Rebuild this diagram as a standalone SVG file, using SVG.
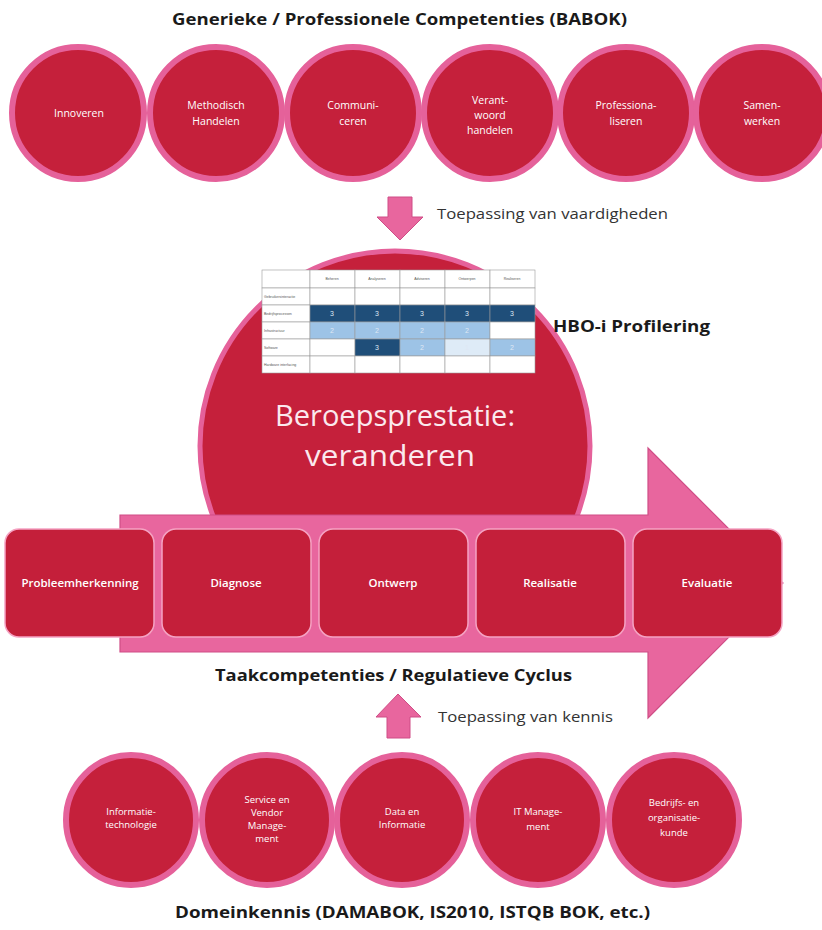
<svg xmlns="http://www.w3.org/2000/svg" width="822" height="930" viewBox="0 0 822 930">
<style>
  .ring { fill: #c5203b; stroke: #e5619a; stroke-width: 6; }
  .lbl { font-family: "Open Sans", "Liberation Sans", sans-serif; font-size: 10.5px; fill: #ffffff; text-anchor: middle; }
  .lbl2 { font-family: "Open Sans", "Liberation Sans", sans-serif; font-size: 9.5px; fill: #ffffff; text-anchor: middle; }
  .box { fill: #c41f3a; stroke: #f5a3c3; stroke-width: 1.5; }
  .blbl { font-family: "Open Sans", "Liberation Sans", sans-serif; font-size: 11.5px; font-weight: 600; fill: #ffffff; text-anchor: middle; }
  .head { font-family: "Open Sans", "Liberation Sans", sans-serif; font-size: 16px; font-weight: 700; fill: #1a1a1a; }
  .note { font-family: "Open Sans", "Liberation Sans", sans-serif; font-size: 14.5px; fill: #333333; }
  .arrow { fill: #e8669e; stroke: #cf4d86; stroke-width: 1; }
  .tcell { fill: #ffffff; stroke: #9a9a9a; stroke-width: 0.6; }
  .ttxt { font-family: "Liberation Sans", sans-serif; font-size: 3.5px; fill: #555555; }
  .tnum { font-family: "Liberation Sans", sans-serif; font-size: 7px; fill: #dfe8f4; text-anchor: middle; }
</style>

<rect x="0" y="0" width="822" height="930" fill="#ffffff"/>

<text class="head" x="172" y="25" textLength="455" lengthAdjust="spacingAndGlyphs">Generieke / Professionele Competenties (BABOK)</text>

<g id="top-competenties">
  <g id="c-innoveren"><circle class="ring" cx="78" cy="113" r="66"/><text class="lbl" x="79" y="117">Innoveren</text></g>
  <g id="c-methodisch"><circle class="ring" cx="216" cy="113" r="66"/><text class="lbl" x="216" y="109">Methodisch</text><text class="lbl" x="216" y="125">Handelen</text></g>
  <g id="c-communiceren"><circle class="ring" cx="353" cy="113" r="66"/><text class="lbl" x="353" y="109">Communi-</text><text class="lbl" x="353" y="125">ceren</text></g>
  <g id="c-verantwoord"><circle class="ring" cx="490" cy="113" r="66"/><text class="lbl" x="490" y="104">Verant-</text><text class="lbl" x="490" y="119">woord</text><text class="lbl" x="490" y="134">handelen</text></g>
  <g id="c-professionaliseren"><circle class="ring" cx="626" cy="113" r="66"/><text class="lbl" x="626" y="109">Professiona-</text><text class="lbl" x="626" y="125">liseren</text></g>
  <g id="c-samenwerken"><circle class="ring" cx="762" cy="113" r="66"/><text class="lbl" x="762" y="109">Samen-</text><text class="lbl" x="762" y="125">werken</text></g>
</g>

<g id="connectors">
  <polygon id="arrow-down" class="arrow" points="388,197 412,197 412,217 423,217 400,240 377,217 388,217"/>
  <polygon id="arrow-up" class="arrow" points="398,694 421,717 410,717 410,738 387,738 387,717 376,717"/>
</g>
<text class="note" x="437" y="219" textLength="231" lengthAdjust="spacingAndGlyphs">Toepassing van vaardigheden</text>

<g id="beroepsprestatie">
  <circle cx="395" cy="446" r="195" fill="#c5203b" stroke="#e5619a" stroke-width="5"/>
  <text x="395" y="426" font-family="Open Sans, Liberation Sans, sans-serif" font-size="29" fill="#fbe9ee" text-anchor="middle" textLength="240" lengthAdjust="spacingAndGlyphs">Beroepsprestatie:</text>
  <text x="390" y="466" font-family="Open Sans, Liberation Sans, sans-serif" font-size="29" fill="#fbe9ee" text-anchor="middle" textLength="170" lengthAdjust="spacingAndGlyphs">veranderen</text>
</g>

<g id="hbo-i-tabel">
  <rect x="262" y="270" width="273" height="103" fill="#ffffff"/>
  <rect class="tcell" x="262" y="270" width="48" height="18"/>
  <rect class="tcell" x="310" y="270" width="45" height="18"/>
  <rect class="tcell" x="355" y="270" width="45" height="18"/>
  <rect class="tcell" x="400" y="270" width="45" height="18"/>
  <rect class="tcell" x="445" y="270" width="45" height="18"/>
  <rect class="tcell" x="490" y="270" width="45" height="18"/>
  <text class="ttxt" x="332" y="280" text-anchor="middle">Beheren</text>
  <text class="ttxt" x="377" y="280" text-anchor="middle">Analyseren</text>
  <text class="ttxt" x="422" y="280" text-anchor="middle">Adviseren</text>
  <text class="ttxt" x="467" y="280" text-anchor="middle">Ontwerpen</text>
  <text class="ttxt" x="512" y="280" text-anchor="middle">Realiseren</text>
  <rect class="tcell" x="262" y="288" width="48" height="17"/>
  <rect class="tcell" x="262" y="305" width="48" height="17"/>
  <rect class="tcell" x="262" y="322" width="48" height="17"/>
  <rect class="tcell" x="262" y="339" width="48" height="17"/>
  <rect class="tcell" x="262" y="356" width="48" height="17"/>
  <text class="ttxt" x="264" y="298">Gebruikersinteractie</text>
  <text class="ttxt" x="264" y="315">Bedrijfsprocessen</text>
  <text class="ttxt" x="264" y="332">Infrastructuur</text>
  <text class="ttxt" x="264" y="349">Software</text>
  <text class="ttxt" x="264" y="366">Hardware interfacing</text>
  <rect class="tcell" x="310" y="288" width="45" height="17"/>
  <rect class="tcell" x="355" y="288" width="45" height="17"/>
  <rect class="tcell" x="400" y="288" width="45" height="17"/>
  <rect class="tcell" x="445" y="288" width="45" height="17"/>
  <rect class="tcell" x="490" y="288" width="45" height="17"/>
  <rect class="tcell" x="310" y="305" width="45" height="17" style="fill:#1f4e79"/>
  <rect class="tcell" x="355" y="305" width="45" height="17" style="fill:#1f4e79"/>
  <rect class="tcell" x="400" y="305" width="45" height="17" style="fill:#1f4e79"/>
  <rect class="tcell" x="445" y="305" width="45" height="17" style="fill:#1f4e79"/>
  <rect class="tcell" x="490" y="305" width="45" height="17" style="fill:#1f4e79"/>
  <text class="tnum" x="332" y="316">3</text><text class="tnum" x="377" y="316">3</text><text class="tnum" x="422" y="316">3</text><text class="tnum" x="467" y="316">3</text><text class="tnum" x="512" y="316">3</text>
  <rect class="tcell" x="310" y="322" width="45" height="17" style="fill:#9dc3e6"/>
  <rect class="tcell" x="355" y="322" width="45" height="17" style="fill:#9dc3e6"/>
  <rect class="tcell" x="400" y="322" width="45" height="17" style="fill:#9dc3e6"/>
  <rect class="tcell" x="445" y="322" width="45" height="17" style="fill:#9dc3e6"/>
  <rect class="tcell" x="490" y="322" width="45" height="17"/>
  <text class="tnum" x="332" y="333">2</text><text class="tnum" x="377" y="333">2</text><text class="tnum" x="422" y="333">2</text><text class="tnum" x="467" y="333">2</text>
  <rect class="tcell" x="310" y="339" width="45" height="17"/>
  <rect class="tcell" x="355" y="339" width="45" height="17" style="fill:#1f4e79"/>
  <rect class="tcell" x="400" y="339" width="45" height="17" style="fill:#9dc3e6"/>
  <rect class="tcell" x="445" y="339" width="45" height="17" style="fill:#deebf7"/>
  <rect class="tcell" x="490" y="339" width="45" height="17" style="fill:#9dc3e6"/>
  <text class="tnum" x="377" y="350">3</text><text class="tnum" x="422" y="350">2</text><text class="tnum" x="467" y="350">1</text><text class="tnum" x="512" y="350">2</text>
  <rect class="tcell" x="310" y="356" width="45" height="17"/>
  <rect class="tcell" x="355" y="356" width="45" height="17"/>
  <rect class="tcell" x="400" y="356" width="45" height="17"/>
  <rect class="tcell" x="445" y="356" width="45" height="17"/>
  <rect class="tcell" x="490" y="356" width="45" height="17"/>
</g>
<text class="head" x="553" y="332" font-size="15" textLength="157" lengthAdjust="spacingAndGlyphs">HBO-i Profilering</text>

<g id="regulatieve-cyclus-pijl">
  <polygon points="120,515 648,515 648,448 783,583 648,718 648,652 120,652" fill="#e8669e" stroke="#cf4d86" stroke-width="1.2"/>
</g>

<g id="b-probleemherkenning"><rect class="box" x="5" y="529" width="149" height="108" rx="14"/><text class="blbl" x="80" y="587">Probleemherkenning</text></g>
<g id="b-diagnose"><rect class="box" x="162" y="529" width="149" height="108" rx="14"/><text class="blbl" x="236" y="587">Diagnose</text></g>
<g id="b-ontwerp"><rect class="box" x="319" y="529" width="149" height="108" rx="14"/><text class="blbl" x="393" y="587">Ontwerp</text></g>
<g id="b-realisatie"><rect class="box" x="476" y="529" width="149" height="108" rx="14"/><text class="blbl" x="550" y="587">Realisatie</text></g>
<g id="b-evaluatie"><rect class="box" x="633" y="529" width="149" height="108" rx="14"/><text class="blbl" x="707" y="587">Evaluatie</text></g>

<text class="head" x="215" y="681" textLength="357" lengthAdjust="spacingAndGlyphs">Taakcompetenties / Regulatieve Cyclus</text>
<text class="note" x="438" y="722" textLength="175" lengthAdjust="spacingAndGlyphs">Toepassing van kennis</text>

<g id="domeinkennis">
  <g id="d-informatietechnologie"><circle class="ring" cx="131" cy="820" r="65"/><text class="lbl2" x="131" y="815">Informatie-</text><text class="lbl2" x="131" y="828">technologie</text></g>
  <g id="d-service"><circle class="ring" cx="267" cy="820" r="65"/><text class="lbl2" x="267" y="803">Service en</text><text class="lbl2" x="267" y="816">Vendor</text><text class="lbl2" x="267" y="829">Manage-</text><text class="lbl2" x="267" y="842">ment</text></g>
  <g id="d-data"><circle class="ring" cx="402" cy="820" r="65"/><text class="lbl2" x="402" y="815">Data en</text><text class="lbl2" x="402" y="828">Informatie</text></g>
  <g id="d-itmanagement"><circle class="ring" cx="538" cy="820" r="65"/><text class="lbl2" x="538" y="815">IT Manage-</text><text class="lbl2" x="538" y="830">ment</text></g>
  <g id="d-bedrijfskunde"><circle class="ring" cx="674" cy="820" r="65"/><text class="lbl2" x="674" y="806">Bedrijfs- en</text><text class="lbl2" x="674" y="821">organisatie-</text><text class="lbl2" x="674" y="836">kunde</text></g>
</g>

<text class="head" x="175" y="918" textLength="475" lengthAdjust="spacingAndGlyphs">Domeinkennis (DAMABOK, IS2010, ISTQB BOK, etc.)</text>
</svg>
